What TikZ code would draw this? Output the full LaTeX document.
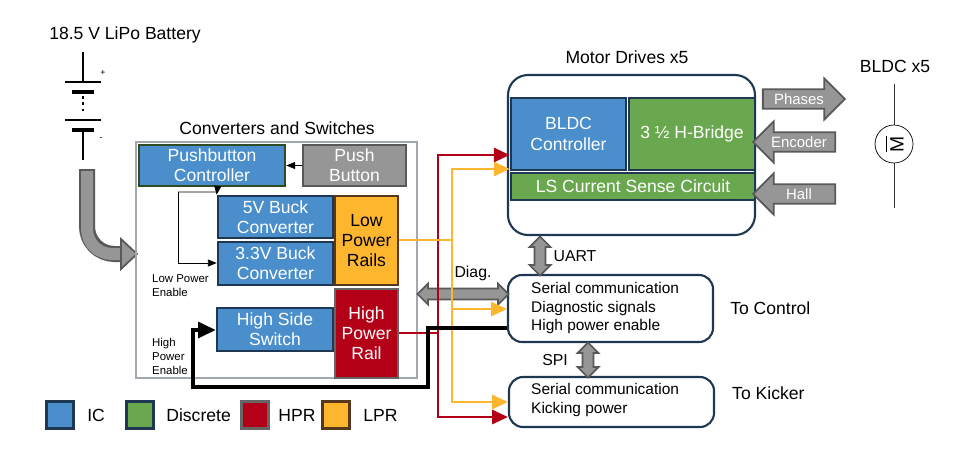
\documentclass[tikz,border=0pt]{standalone}
\usepackage{fontspec}
\setmainfont{Liberation Sans}
\usetikzlibrary{positioning,fit,shapes.arrows,arrows.meta}
\definecolor{icblue}{RGB}{74,142,204}
\definecolor{discgreen}{RGB}{106,168,79}
\definecolor{hprred}{RGB}{180,0,22}
\definecolor{lprorange}{RGB}{253,182,46}
\definecolor{edge}{RGB}{30,55,82}
\definecolor{gbox}{RGB}{150,150,150}
\tikzset{
	blk/.style={inner sep=0pt, line width=1.5pt, text=white, align=center, font=\fontsize{10}{11.5}\selectfont},
	ic/.style={blk, fill=icblue, draw=edge},
	disc/.style={blk, fill=discgreen, draw=edge},
	hpr/.style={blk, fill=hprred, draw=black!60},
	lpr/.style={blk, fill=lprorange, draw=black!55!brown, text=black},
	frame/.style={rounded corners=0.4cm, draw=edge, line width=1.2pt, inner sep=0pt},
	lbl/.style={font=\fontsize{10}{12}\selectfont},
	small/.style={font=\fontsize{6.5}{8}\selectfont, align=left},
	item/.style={font=\fontsize{8.8}{10.5}\selectfont, align=left},
	gdarrow/.style={double arrow, fill=gbox, draw=black!65, line width=1pt, inner sep=0.09cm, minimum width=0.42cm, double arrow head extend=0.1cm},
	gsarrow/.style={single arrow, fill=gbox, draw=black!65, line width=1pt, inner sep=1.5pt, minimum height=1.64cm, minimum width=0.82cm, single arrow head extend=0.2cm, text=white, font=\fontsize{8.5}{10}\selectfont},
	red/.style={hprred, line width=1.5pt, -{Triangle[length=9pt,width=8pt]}},
	org/.style={lprorange, line width=1.5pt, -{Triangle[length=9pt,width=8pt]}},
	leg/.style={minimum size=0.54cm, line width=1.5pt, inner sep=0pt},
	legtxt/.style={lbl, anchor=west, inner sep=0pt}
}
\begin{document}
\begin{tikzpicture}[x=0.02cm,y=-0.02cm]
	\useasboundingbox (0,0) rectangle (962,454);
	% battery
	\node[lbl] (battxt) at (125,35) {18.5 V LiPo Battery};
	\coordinate (b0) at (83,52);
	\coordinate (b1) at (83,82);
	\coordinate (b2) at (83,130);
	\coordinate (b3) at (83,160);
	\draw[line width=1.6pt] (b0) -- (b1);
	\draw[line width=1.6pt] (65,82) -- (101,82);
	\draw[line width=2.4pt] (72,92) -- (94,92);
	\draw[line width=1.6pt, dotted] (83,96) -- (83,114);
	\draw[line width=1.6pt] (65,120) -- (101,120);
	\draw[line width=2.4pt] (72,130) -- (94,130);
	\draw[line width=1.6pt] (b2) -- (b3);
	\node[font=\tiny] (plus) at (103,73) {+};
	\node[font=\tiny] (minus) at (101,139) {-};
	% feed arrow
	\draw[line width=0.32cm, black!65, rounded corners=0.55cm] (87,169) -- (87,254) -- (124,254);
	\draw[line width=0.24cm, gbox, rounded corners=0.5cm] (87,171) -- (87,254) -- (124,254);
	\filldraw[fill=gbox, draw=black!65, line width=1pt] (121,239) -- (137,254) -- (121,269) -- cycle;
	% converters and switches
	\node[draw=black!30!edge!40, line width=1pt, inner sep=0pt, fit={(136,142) (417,378)}] (conv) {};
	\node[lbl] (convtxt) at (277,128) {Converters and Switches};
	\node[ic, draw=black!55!discgreen, fit={(139,145) (285,186)}] (pbc) {};
	\node[ic, draw=none] at (pbc.center) {Pushbutton\\Controller};
	\node[blk, fill=gbox, draw=black!65, fit={(303,145) (406,186)}] (pb) {};
	\node[blk] at (pb.center) {Push\\Button};
	\node[ic, fit={(218,196) (333,238)}] (buck5) {};
	\node[blk] at (buck5.center) {5V Buck\\Converter};
	\node[ic, fit={(218,242) (333,285)}] (buck3) {};
	\node[blk] at (buck3.center) {3.3V Buck\\Converter};
	\node[ic, fit={(217,308) (333,351)}] (hss) {};
	\node[blk] at (hss.center) {High Side\\Switch};
	\node[lpr, fit={(335,196) (398,285)}] (lpr) {};
	\node[lpr, draw=none] at (lpr.center) {Low\\Power\\Rails};
	\node[hpr, fit={(335,289) (398,378)}] (hpr) {};
	\node[blk] at (hpr.center) {High\\Power\\Rail};
	\draw[-{Triangle[length=5pt,width=4pt]}] (pb.west) -- (pbc.east);
	\coordinate (le0) at (178,192);
	\coordinate (le1) at (217,192);
	\coordinate (le2) at (178,263);
	\draw[-{Triangle[length=5pt,width=4pt]}] (le0) -- (le1) -- (buck5.north west);
	\draw[-{Triangle[length=5pt,width=4pt]}] (le0) -- (le2) -- (buck3.west |- le2);
	\node[small, anchor=north west] (letxt) at (146,268) {Low Power\\Enable};
	\node[small, anchor=north west] (hetxt) at (146,332) {High\\Power\\Enable};
	% motor drives
	\node[frame, fit={(508,75) (755,235)}] (md) {};
	\node[lbl] (mdtxt) at (627,57) {Motor Drives x5};
	\node[ic, fit={(511,98) (626,170)}] (bldcc) {};
	\node[blk] at (bldcc.center) {BLDC\\Controller};
	\node[disc, fit={(629,98) (755,170)}] (hb) {};
	\node[blk] at (hb.center) {3 ½ H-Bridge};
	\node[disc, fit={(511,173) (755,200)}] (ls) {};
	\node[blk] at (ls.center) {LS Current Sense Circuit};
	\node[gsarrow] (ph) at (799,99) {Phases};
	\node[gsarrow, shape border rotate=180] (enc) at (799,142) {Encoder};
	\node[gsarrow, shape border rotate=180] (hall) at (799,194) {Hall};
	% motor
	\node[lbl] (bldctxt) at (895,66) {BLDC x5};
	\node[draw, circle, minimum size=0.76cm, inner sep=0pt] (mot) at (894,144) {};
	\coordinate (mt) at (894,84);
	\coordinate (mb) at (894,208);
	\draw[black!80] (mt) -- (mot.north);
	\draw[black!80] (mot.south) -- (mb);
	\node[rotate=90, font=\fontsize{11}{12}\selectfont, inner sep=0pt] (mm) at (897,144) {M};
	\draw (886,136) -- (886,152);
	% control and kicker
	\node[frame, rounded corners=0.28cm, fit={(508,275) (713,342)}] (ctl) {};
	\node[item, anchor=west] (ctltxt) at (525,308) {Serial communication\\Diagnostic signals\\High power enable};
	\node[lbl, right=0.2cm of ctl] (ctlname) {To Control};
	\node[frame, rounded corners=0.28cm, fit={(509,377) (714,427)}] (kick) {};
	\node[item, anchor=west] (kicktxt) at (525,400) {Serial communication\\Kicking power};
	\node[lbl, anchor=west] (kickname) at (726,393) {To Kicker};
	% comm arrows
	\node[gdarrow, minimum height=0.78cm, rotate=90] (uart) at (540,256) {};
	\node[lbl, font=\fontsize{9}{10}\selectfont] (uarttxt) at (575,256) {UART};
	\node[gdarrow, minimum height=0.7cm, rotate=90] (spi) at (588,360) {};
	\node[lbl, font=\fontsize{9}{10}\selectfont] (spitxt) at (555,360) {SPI};
	\node[gdarrow, minimum height=1.82cm] (diag) at (463,294) {};
	\node[lbl, font=\fontsize{9}{10}\selectfont] (diagtxt) at (473,273) {Diag.};
	% power wiring
	\coordinate (r0) at (438,333);
	\coordinate (r1) at (438,155);
	\coordinate (r2) at (438,417);
	\draw[red] (hpr.east |- r0) -- (r0) -- (r1) -- (bldcc.west |- r1);
	\draw[red] (r0) -- (r2) -- (kick.west |- r2);
	\coordinate (o0) at (452,240);
	\coordinate (o1) at (452,169);
	\coordinate (o2) at (452,402);
	\coordinate (o3) at (452,309);
	\draw[org] (lpr.east |- o0) -- (o0) -- (o1) -- (bldcc.west |- o1);
	\draw[org] (o0) -- (o2) -- (kick.west |- o2);
	\draw[org] (o3) -- (ctl.west |- o3);
	% high power enable
	\coordinate (h0) at (428,328);
	\coordinate (h1) at (428,387);
	\coordinate (h2) at (193,387);
	\coordinate (h3) at (193,330);
	\draw[line width=2pt, -{Triangle[length=10pt,width=9pt]}] (ctl.west |- h0) -- (h0) -- (h1) -- (h2) -- (h3) -- (hss.west |- h3);
	% legend
	\node[leg, fill=icblue, draw=edge] (lic) at (60,415) {};
	\node[legtxt] (lictxt) at (87,415) {IC};
	\node[leg, fill=discgreen, draw=edge] (ldisc) at (140,415) {};
	\node[legtxt] (ldisctxt) at (166,415) {Discrete};
	\node[leg, fill=hprred, draw=black!60] (lhpr) at (255,415) {};
	\node[legtxt] (lhprtxt) at (278,415) {HPR};
	\node[leg, fill=lprorange, draw=black!55!brown] (llpr) at (336,415) {};
	\node[legtxt] (llprtxt) at (363,415) {LPR};
\end{tikzpicture}
\end{document}
